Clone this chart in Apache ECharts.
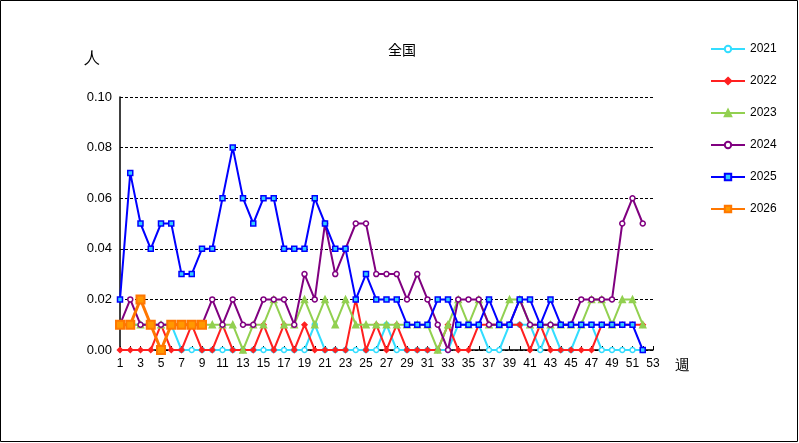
<!DOCTYPE html><html><head><meta charset="utf-8"><script src="https://cdn.jsdelivr.net/npm/echarts@6/dist/echarts.min.js"></script></head><body style="margin:0"><div id="c" style="width:799px;height:443px"></div><script>
const weeks=Array.from({length:53},(_,i)=>String(i+1));
const y2021=[0.01,0.01,0.01,0.01,0.01,0.01,0,0,0,0,0,0,0,0,0,0,0,0,0,0.01,0,0,0,0,0,0,0.01,0,0,0,0,0,0,0.01,0.01,0.01,0,0,0.01,0.01,0.01,0,0.01,0,0,0.01,0.01,0,0,0,0,0];
const y2022=[0,0,0,0,0.01,0,0,0.01,0,0,0.01,0,0,0,0.01,0,0.01,0,0.01,0,0,0,0,0.02,0,0.01,0,0.01,0,0,0,0,0.01,0,0,0.01,0.01,0.01,0.01,0.01,0,0.01,0,0,0,0,0,0.01,0.01,0.01,0.01,0.01];
const y2023=[0.01,0.01,0.01,0.01,0.01,0.01,0.01,0.01,0.01,0.01,0.01,0.01,0,0.01,0.01,0.02,0.01,0.01,0.02,0.01,0.02,0.01,0.02,0.01,0.01,0.01,0.01,0.01,0.01,0.01,0.01,0,0.01,0.02,0.01,0.02,0.01,0.01,0.02,0.02,0.01,0.01,0.01,0.01,0.01,0.01,0.02,0.02,0.01,0.02,0.02,0.01];
const y2024=[0.01,0.02,0.01,0.01,0.01,0.01,0.01,0.01,0.01,0.02,0.01,0.02,0.01,0.01,0.02,0.02,0.02,0.01,0.03,0.02,0.05,0.03,0.04,0.05,0.05,0.03,0.03,0.03,0.02,0.03,0.02,0.01,0,0.02,0.02,0.02,0.01,0.01,0.01,0.02,0.01,0.01,0.01,0.01,0.01,0.02,0.02,0.02,0.02,0.05,0.06,0.05];
const y2025=[0.02,0.07,0.05,0.04,0.05,0.05,0.03,0.03,0.04,0.04,0.06,0.08,0.06,0.05,0.06,0.06,0.04,0.04,0.04,0.06,0.05,0.04,0.04,0.02,0.03,0.02,0.02,0.02,0.01,0.01,0.01,0.02,0.02,0.01,0.01,0.01,0.02,0.01,0.01,0.02,0.02,0.01,0.02,0.01,0.01,0.01,0.01,0.01,0.01,0.01,0.01,0];
const y2026=[0.01,0.01,0.02,0.01,0,0.01,0.01,0.01,0.01];
const yTicks=['0.00','0.02','0.04','0.06','0.08','0.10'];
const defs=[['2021',y2021,'#33ddff','circle',5],['2022',y2022,'#ff2020','diamond',5],['2023',y2023,'#92d050','triangle',6],['2024',y2024,'#800080','circle',5],['2025',y2025,'#0000ff','rect',5],['2026',y2026,'#ff7700','rect',8]];
const series=defs.map(([n,d,c,s,sz],i)=>({name:n,type:'line',data:d,symbol:s,symbolSize:sz,showAllSymbol:true,
 lineStyle:{color:c,width:i==5?3:2},itemStyle:{color:i==0||i==3?'#fff':(i==5?'#ff9900':(i==4?'#33ccff':c)),borderColor:c,borderWidth:i==5?2:1.5},z:i+2}));
const ch=echarts.init(document.getElementById('c'));
ch.setOption({animation:false,backgroundColor:'#fff',
graphic:[{type:'rect',shape:{x:0.5,y:0.5,width:797,height:441},style:{fill:'none',stroke:'#000',lineWidth:1}}],
title:{text:'全国',left:383,top:38,textStyle:{fontSize:14,fontWeight:'normal',color:'#000',fontFamily:'Noto Sans CJK JP'}},
legend:{orient:'vertical',left:705,top:38,itemGap:20,itemWidth:34,itemHeight:8,textStyle:{fontSize:12,color:'#000'}},
grid:{left:120,right:146,top:97,bottom:93},
xAxis:{type:'category',data:weeks,boundaryGap:false,name:'週',nameLocation:'end',nameGap:22,nameTextStyle:{fontSize:15,color:'#000',verticalAlign:'top',padding:[8,0,0,0]},
 axisLine:{lineStyle:{color:'#000',width:1.5}},axisTick:{interval:0,inside:true,length:4,lineStyle:{color:'#000'}},axisLabel:{interval:1,color:'#000',fontSize:12}},
yAxis:{type:'value',min:0,max:0.1,interval:0.02,name:'人',nameLocation:'end',nameGap:30,nameTextStyle:{fontSize:16,color:'#000',align:'right',padding:[0,20,0,0]},
 axisLine:{show:true,lineStyle:{color:'#000',width:1.5}},axisTick:{show:false},
 axisLabel:{color:'#000',fontSize:13,formatter:v=>yTicks[Math.round(v/0.02)]},splitLine:{lineStyle:{color:'#000',type:[3,2],width:1}}},
series});
</script></body></html>
